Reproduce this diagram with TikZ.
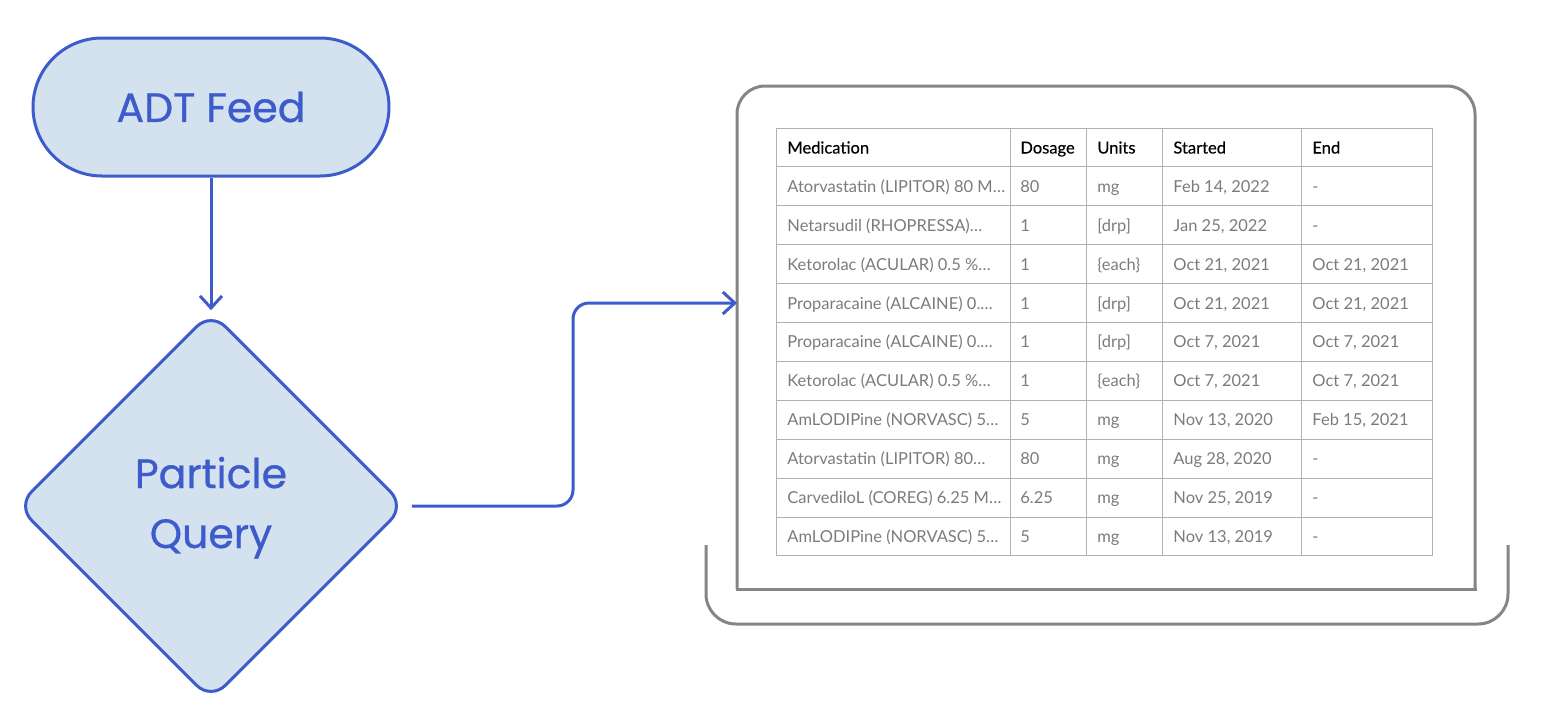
\documentclass[tikz,border=0pt]{standalone}
\usepackage{fontspec}
\setmainfont{Lato}
\newfontfamily\labelfont{Poppins}[FakeBold=0.7]
\newfontfamily\headfont{Lato}[FakeBold=0.4]
\usetikzlibrary{shapes.geometric}
\usetikzlibrary{arrows.meta}
\definecolor{flowblue}{HTML}{3D5BCB}
\definecolor{flowfill}{HTML}{D4E2F0}
\definecolor{framegray}{HTML}{858585}
\definecolor{gridgray}{HTML}{B0B0B0}
\definecolor{textgray}{HTML}{7B7B7B}
\tikzset{
	terminal/.style = {
		draw=flowblue, fill=flowfill, line width=1.5pt,
		minimum width=178pt, minimum height=69pt, rounded corners=34.5pt,
		text=flowblue, font=\labelfont\fontsize{20.5}{30}\selectfont
	},
	decision/.style = {
		diamond, draw=flowblue, fill=flowfill, line width=1.5pt,
		minimum width=194.3pt, minimum height=194.3pt, inner sep=0pt,
		rounded corners=10pt,
		text=flowblue, font=\labelfont\fontsize{20.5}{30}\selectfont
	},
	flow/.style = {
		draw=flowblue, line width=1.5pt,
		-{Straight Barb[length=6pt, width=11pt, line width=1.5pt]}
	},
	frame/.style = {draw=framegray, line width=1.5pt},
	cellgrid/.style = {draw=gridgray, line width=0.5pt},
	headtext/.style = {anchor=base west, inner sep=0pt, text=black,
		font=\headfont\fontsize{8.25}{10}\selectfont},
	celltext/.style = {anchor=base west, inner sep=0pt, text=textgray,
		font=\fontsize{8.25}{10}\selectfont}
}

\begin{document}
\begin{tikzpicture}[x=0.5pt, y=-0.5pt]
	\useasboundingbox (0, 0) rectangle (1548, 718);
	\node [terminal] (adt) at (211, 107) {\raisebox{-2pt}{ADT Feed}};
	\node [decision] (pq) at (211, 506) {%
		\raisebox{-6.5pt}{\begin{tabular}{@{}c@{}}Particle\\Query\end{tabular}}%
	};
	\draw [flow] (adt) -- (pq);

	\draw [frame, rounded corners=14pt] (737, 589) -- (737, 86) -- (1475, 86) -- (1475, 589);
	\draw [frame, line cap=rect] (737, 589) -- (1475, 589);
	\draw [frame, rounded corners=15pt] (706, 545) -- (706, 624) -- (1508, 624) -- (1508, 545);

	\coordinate (jog) at (573, 303);
	\coordinate (screenin) at (737, 303);
	\draw [flow, rounded corners=8pt, shorten <=2.5pt] (pq.east) -| (jog) -- (screenin);

	\foreach \x in {776, 1010, 1086, 1162, 1301, 1432}
	{
		\draw [cellgrid] (\x, 128) -- (\x, 555.9);
	}
	\foreach \r in {0,...,11}
	{
		\draw [cellgrid] (776, {128+38.9*\r}) -- (1432, {128+38.9*\r});
	}

	\node [headtext] (hmed) at (787, 153.5) {Medication};
	\node [headtext] (hdose) at (1020, 153.5) {Dosage};
	\node [headtext] (hunits) at (1097, 153.5) {Units};
	\node [headtext] (hstart) at (1173, 153.5) {Started};
	\node [headtext] (hend) at (1312, 153.5) {End};

	\foreach [count=\r] \med/\dose/\units/\begdate/\enddate in {
		Atorvastatin (LIPITOR) 80 M…/80/mg/{Feb 14, 2022}/-,
		Netarsudil (RHOPRESSA)…/1/[drp]/{Jan 25, 2022}/-,
		Ketorolac (ACULAR) 0.5 \%…/1/\{each\}/{Oct 21, 2021}/{Oct 21, 2021},
		Proparacaine (ALCAINE) 0.…/1/[drp]/{Oct 21, 2021}/{Oct 21, 2021},
		Proparacaine (ALCAINE) 0.…/1/[drp]/{Oct 7, 2021}/{Oct 7, 2021},
		Ketorolac (ACULAR) 0.5 \%…/1/\{each\}/{Oct 7, 2021}/{Oct 7, 2021},
		AmLODIPine (NORVASC) 5…/5/mg/{Nov 13, 2020}/{Feb 15, 2021},
		Atorvastatin (LIPITOR) 80…/80/mg/{Aug 28, 2020}/-,
		CarvediloL (COREG) 6.25 M…/6.25/mg/{Nov 25, 2019}/-,
		AmLODIPine (NORVASC) 5…/5/mg/{Nov 13, 2019}/-}
	{
		\node [celltext] (m\r) at (787, {128+38.9*(\r+0.5)+6}) {\med};
		\node [celltext] (d\r) at (1020, {128+38.9*(\r+0.5)+6}) {\dose};
		\node [celltext] (u\r) at (1097, {128+38.9*(\r+0.5)+6}) {\units};
		\node [celltext] (s\r) at (1173, {128+38.9*(\r+0.5)+6}) {\begdate};
		\node [celltext] (e\r) at (1312, {128+38.9*(\r+0.5)+6}) {\enddate};
	}
\end{tikzpicture}
\end{document}
